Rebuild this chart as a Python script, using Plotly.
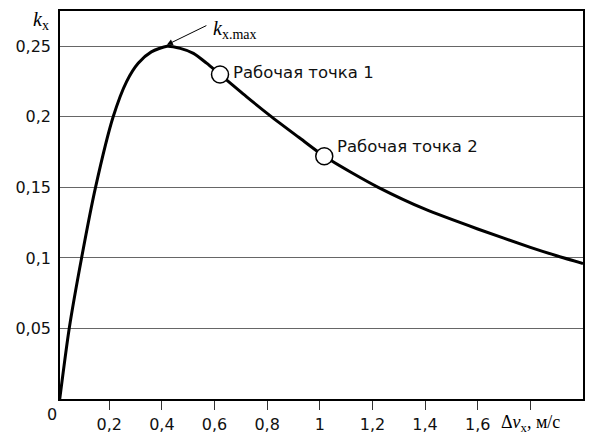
import plotly.graph_objects as go

# Curve (Δv_x, k_x)
x_curve = [0.012, 0.048, 0.095, 0.148, 0.215, 0.266, 0.31, 0.36, 0.42, 0.47, 0.52, 0.57,
           0.621, 0.72, 0.817, 0.92, 1.017, 1.12, 1.222, 1.4, 1.6, 1.8, 1.9, 2.0]
y_curve = [0.0, 0.05, 0.10, 0.15, 0.20, 0.225, 0.238, 0.246, 0.250, 0.2485, 0.245, 0.238,
           0.230, 0.2145, 0.200, 0.1855, 0.172, 0.1605, 0.150, 0.1345, 0.1205, 0.1075, 0.1015, 0.096]

# Working points
wp_x = [0.621, 1.017]
wp_y = [0.230, 0.172]
wp_labels = ["Рабочая точка 1", "Рабочая точка 2"]

# k_x.max position
kmax_x = 0.419
kmax_y = 0.251

x_tickvals = [0.2, 0.4, 0.6, 0.8, 1.0, 1.2, 1.4, 1.6, 1.8]
x_ticktext = ["0,2", "0,4", "0,6", "0,8", "1", "1,2", "1,4", "1,6", ""]
y_tickvals = [0.05, 0.10, 0.15, 0.20, 0.25]
y_ticktext = ["0,05", "0,1", "0,15", "0,2", "0,25"]

SANS = "DejaVu Sans, Arial, sans-serif"
SERIF = "Liberation Serif, Times New Roman, serif"

fig = go.Figure()
fig.add_trace(go.Scatter(x=x_curve, y=y_curve, mode="lines",
                         line=dict(color="black", width=3, shape="spline", smoothing=0.7),
                         hoverinfo="skip", showlegend=False))
fig.add_trace(go.Scatter(x=wp_x, y=wp_y, mode="markers",
                         marker=dict(size=17, color="white", line=dict(color="black", width=1.5)),
                         showlegend=False, cliponaxis=False))

annotations = []
shifts = [(11, 2), (11, 10)]
for xx, yy, t, (dx, dy) in zip(wp_x, wp_y, wp_labels, shifts):
    annotations.append(dict(x=xx, y=yy, xref="x", yref="y", text=t, showarrow=False,
                            xanchor="left", yanchor="middle", xshift=dx, yshift=dy,
                            font=dict(family=SANS, size=16.5, color="#111")))
# arrow to k_x.max
annotations.append(dict(x=kmax_x, y=kmax_y, xref="x", yref="y", text="", showarrow=True,
                        ax=41, ay=-20, arrowhead=2, arrowsize=1.2, arrowwidth=1,
                        arrowcolor="black", standoff=0))
annotations.append(dict(x=kmax_x, y=kmax_y, xref="x", yref="y",
                        text="<i>k</i><sub>x.max</sub>", showarrow=False,
                        xanchor="left", yanchor="middle", xshift=44, yshift=15,
                        font=dict(family=SERIF, size=20, color="black")))
# y-axis title k_x
annotations.append(dict(x=-0.036, y=0.975, xref="paper", yref="paper",
                        text="<i>k</i><sub>x</sub>", showarrow=False,
                        xanchor="center", yanchor="middle",
                        font=dict(family=SERIF, size=20, color="black")))
# origin "0"
annotations.append(dict(x=-0.0153, y=-0.04, xref="paper", yref="paper", text="0",
                        showarrow=False, xanchor="center", yanchor="middle",
                        font=dict(family=SANS, size=16, color="#111")))
# x-axis title
annotations.append(dict(x=1.8, y=-0.062, xref="x", yref="paper",
                        text="Δ<i>v</i><sub>x</sub>, м/с", showarrow=False,
                        xanchor="center", yanchor="middle",
                        font=dict(family=SERIF, size=18, color="black")))

fig.update_layout(
    width=590, height=436,
    margin=dict(l=60, r=7, t=11, b=37),
    paper_bgcolor="white", plot_bgcolor="white",
    annotations=annotations,
    showlegend=False,
)
fig.update_xaxes(range=[0.013, 2.0], tickvals=x_tickvals, ticktext=x_ticktext,
                 ticks="outside", ticklen=9, tickcolor="#333", tickwidth=1,
                 showgrid=False, zeroline=False, ticklabelstandoff=1, automargin=False,
                 showline=True, linecolor="black", linewidth=1.5, mirror=True,
                 tickfont=dict(family=SANS, size=16, color="#111"))
fig.update_yaxes(range=[0, 0.275], tickvals=y_tickvals, ticktext=y_ticktext,
                 ticks="", showgrid=True, gridcolor="#666666", gridwidth=1,
                 zeroline=False, showline=True, linecolor="black", linewidth=1.5, mirror=True,
                 ticklabelstandoff=4, automargin=False,
                 tickfont=dict(family=SANS, size=16, color="#111"))

fig.write_html("out.html")
